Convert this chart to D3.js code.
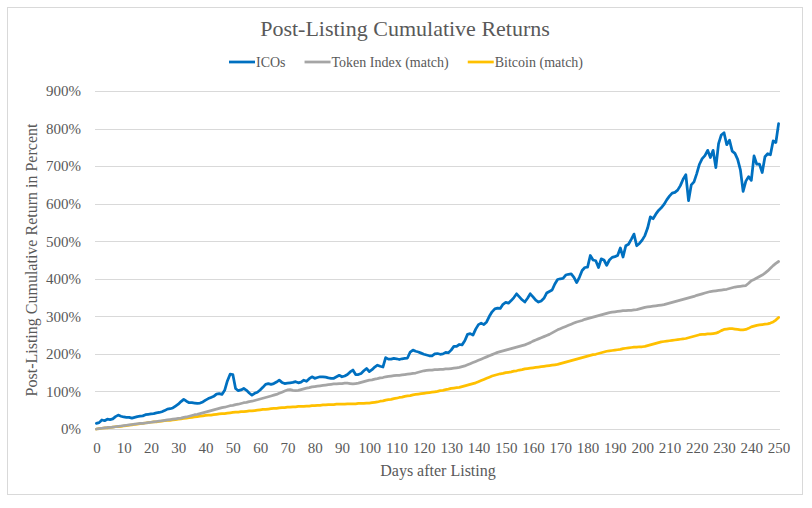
<!DOCTYPE html>
<html>
<head>
<meta charset="utf-8">
<script src="https://cdn.jsdelivr.net/npm/d3@7"></script>
<style>
  html, body { margin: 0; padding: 0; background: #fff; }
  svg text { font-family: "Liberation Serif", "Times New Roman", serif; fill: #595959; }
</style>
</head>
<body>
<svg id="chart" width="812" height="508"></svg>
<script>
const title = "Post-Listing Cumulative Returns";
const xTitle = "Days after Listing";
const yTitle = "Post-Listing Cumulative Return in Percent";
const seriesNames = ["ICOs", "Token Index (match)", "Bitcoin (match)"];
const seriesColors = ["#0070C0", "#A5A5A5", "#FFC000"];
const xTicks = [0,10,20,30,40,50,60,70,80,90,100,110,120,130,140,150,160,170,180,190,200,210,220,230,240,250];
const yTicks = [0,100,200,300,400,500,600,700,800,900];

// values in percent, day 0..250
const icos = [
15,17,24,22,26,25,27,33,37,34,32,31,31,29,31,33,34,35,38,39,
40,41,43,44,46,49,53,54,56,61,66,73,79,74,70,70,69,68,69,72,
77,81,84,87,93,94,92,103,128,146,145,108,102,104,108,103,96,90,95,98,
104,111,119,121,119,121,125,130,124,121,122,123,124,126,123,125,130,127,134,139,
135,137,139,139,138,136,135,135,139,143,139,141,145,152,157,145,145,148,155,161,
153,158,165,170,167,165,190,186,186,188,187,185,187,188,189,205,210,207,205,202,
199,197,195,195,200,201,199,200,204,203,210,220,220,225,224,235,252,254,250,266,
278,282,278,285,300,312,320,322,321,332,337,335,342,350,360,352,344,338,348,360,
352,343,338,341,348,362,366,370,386,398,400,401,410,412,413,404,390,404,422,430,
431,462,450,448,430,453,450,436,450,457,459,462,482,458,488,492,505,519,488,494,
503,515,535,565,560,572,582,589,598,610,620,628,630,636,648,665,677,608,650,658,
680,705,720,728,742,723,742,696,760,783,789,757,769,740,734,718,690,633,660,672,
662,727,705,705,683,725,733,730,767,763,813];

const tokenIndex = [
0,1,2,3,4,4,5,6,7,8,9,
10,11,12,13,14,15,15,16,17,18,
19,20,21,22,23,24,25,26,27,28,
29,31,32,34,36,38,39,41,43,45,
47,49,51,53,55,57,58,60,62,63,
65,66,68,70,71,73,74,76,78,80,
82,84,86,88,90,92,95,98,101,104,
105,103,102,103,105,107,109,110,112,113,
114,115,116,117,118,119,120,120,121,121,
122,122,121,120,121,122,124,126,128,130,
131,133,134,136,137,139,140,141,142,143,
143,144,145,146,147,148,149,151,153,155,
156,157,157,158,158,159,159,160,160,161,
162,163,164,166,168,171,174,177,180,183,
186,189,192,195,198,201,204,206,208,210,
212,214,216,218,220,222,224,227,230,234,
237,240,243,246,249,252,256,260,264,267,
270,273,276,279,282,285,287,289,292,294,
296,298,300,302,304,306,308,310,311,312,
313,314,315,315,316,316,317,318,320,322,
324,325,326,327,328,329,330,331,333,335,
337,339,341,343,345,347,349,351,353,356,
358,360,362,364,366,367,368,369,370,371,
372,374,376,378,379,380,381,382,388,395,
398,402,406,410,415,421,428,435,441,446];

const bitcoin = [
0,1,2,3,3,4,5,6,6,7,8,
9,10,11,12,13,14,15,16,17,18,
19,19,20,21,22,23,23,24,25,26,
27,28,29,30,31,32,33,34,35,36,
37,37,38,39,40,41,41,42,43,44,
45,45,46,46,47,48,48,49,50,51,
52,52,53,54,55,55,56,57,57,58,
58,59,59,60,60,60,61,61,62,62,
63,63,64,64,65,65,65,66,66,66,
66,67,67,67,67,68,68,68,69,69,
70,71,72,74,75,77,78,79,81,82,
84,85,87,88,89,91,92,93,94,95,
96,97,98,99,100,102,103,105,106,108,
109,110,111,113,115,117,119,121,123,126,
129,132,135,138,141,143,145,147,148,150,
151,152,154,155,157,158,160,161,162,163,
164,165,166,167,168,169,170,171,172,174,
176,178,180,182,184,186,188,190,192,194,
196,198,199,201,203,205,207,208,209,210,
211,212,214,215,216,217,218,218,219,219,
220,222,224,226,228,230,232,233,234,235,
236,237,238,239,240,241,243,245,247,249,
251,252,252,253,253,254,255,258,262,265,
266,267,267,266,265,264,264,265,268,272,
274,276,277,278,279,280,282,285,290,297];

const seriesData = [icos, tokenIndex, bitcoin];

const svg = d3.select("#chart");

// outer border
svg.append("rect")
  .attr("x", 7.5).attr("y", 7.5).attr("width", 795).attr("height", 487)
  .attr("fill", "#fff").attr("stroke", "#D9D9D9").attr("stroke-width", 1);

const plot = { left: 95, right: 780, top: 91, bottom: 429 };
const x = d3.scaleLinear().domain([0, 250]).range([96.4, 778.6]);
const y = d3.scaleLinear().domain([0, 900]).range([plot.bottom, plot.top]);

// gridlines
svg.append("g").selectAll("line").data(yTicks).join("line")
  .attr("x1", plot.left).attr("x2", plot.right)
  .attr("y1", d => Math.round(y(d)) + 0.5).attr("y2", d => Math.round(y(d)) + 0.5)
  .attr("stroke", "#D9D9D9").attr("stroke-width", 1);

// y axis labels
const yAxis = d3.axisLeft(y).tickValues(yTicks).tickFormat(d => d + "%").tickSize(0).tickPadding(0);
const gy = svg.append("g").attr("transform", `translate(81,0)`).call(yAxis);
gy.select(".domain").remove();
gy.selectAll("text").style("font-size", "15px").attr("fill", "#595959")
  .style("font-family", '"Liberation Serif", serif');

// x axis labels
const xAxis = d3.axisBottom(x).tickValues(xTicks).tickFormat(d => d).tickSize(0).tickPadding(0);
const gx = svg.append("g").attr("transform", `translate(0,442)`).call(xAxis);
gx.select(".domain").remove();
gx.selectAll("text").style("font-size", "15px").attr("fill", "#595959")
  .style("font-family", '"Liberation Serif", serif');

// lines
const line = d3.line().x((d, i) => x(i)).y(d => y(d));
[2, 1, 0].forEach(k => {
  svg.append("path")
    .datum(seriesData[k])
    .attr("d", line)
    .attr("fill", "none")
    .attr("stroke", seriesColors[k])
    .attr("stroke-width", 2.75)
    .attr("stroke-linejoin", "round")
    .attr("stroke-linecap", "round");
});

// title
svg.append("text")
  .attr("x", 405).attr("y", 36)
  .attr("text-anchor", "middle")
  .style("font-size", "22px")
  .text(title);

// axis titles
svg.append("text")
  .attr("x", 438).attr("y", 476)
  .attr("text-anchor", "middle")
  .style("font-size", "16px")
  .text(xTitle);

svg.append("text")
  .attr("transform", "translate(37,260) rotate(-90)")
  .attr("text-anchor", "middle")
  .style("font-size", "16px")
  .text(yTitle);

// legend
const legend = svg.append("g");
let lx = 0;
seriesNames.forEach((name, i) => {
  const g = legend.append("g").attr("transform", `translate(${lx},0)`);
  g.append("line").attr("x1", 0).attr("x2", 26).attr("y1", 0).attr("y2", 0)
    .attr("stroke", seriesColors[i]).attr("stroke-width", 2.75);
  const t = g.append("text").attr("x", 27).attr("y", 4.5)
    .style("font-size", "14px").text(name);
  lx += 27 + t.node().getComputedTextLength() + 19;
});
const lw = lx - 19;
legend.attr("transform", `translate(${406 - lw / 2},62)`);
</script>
</body>
</html>
